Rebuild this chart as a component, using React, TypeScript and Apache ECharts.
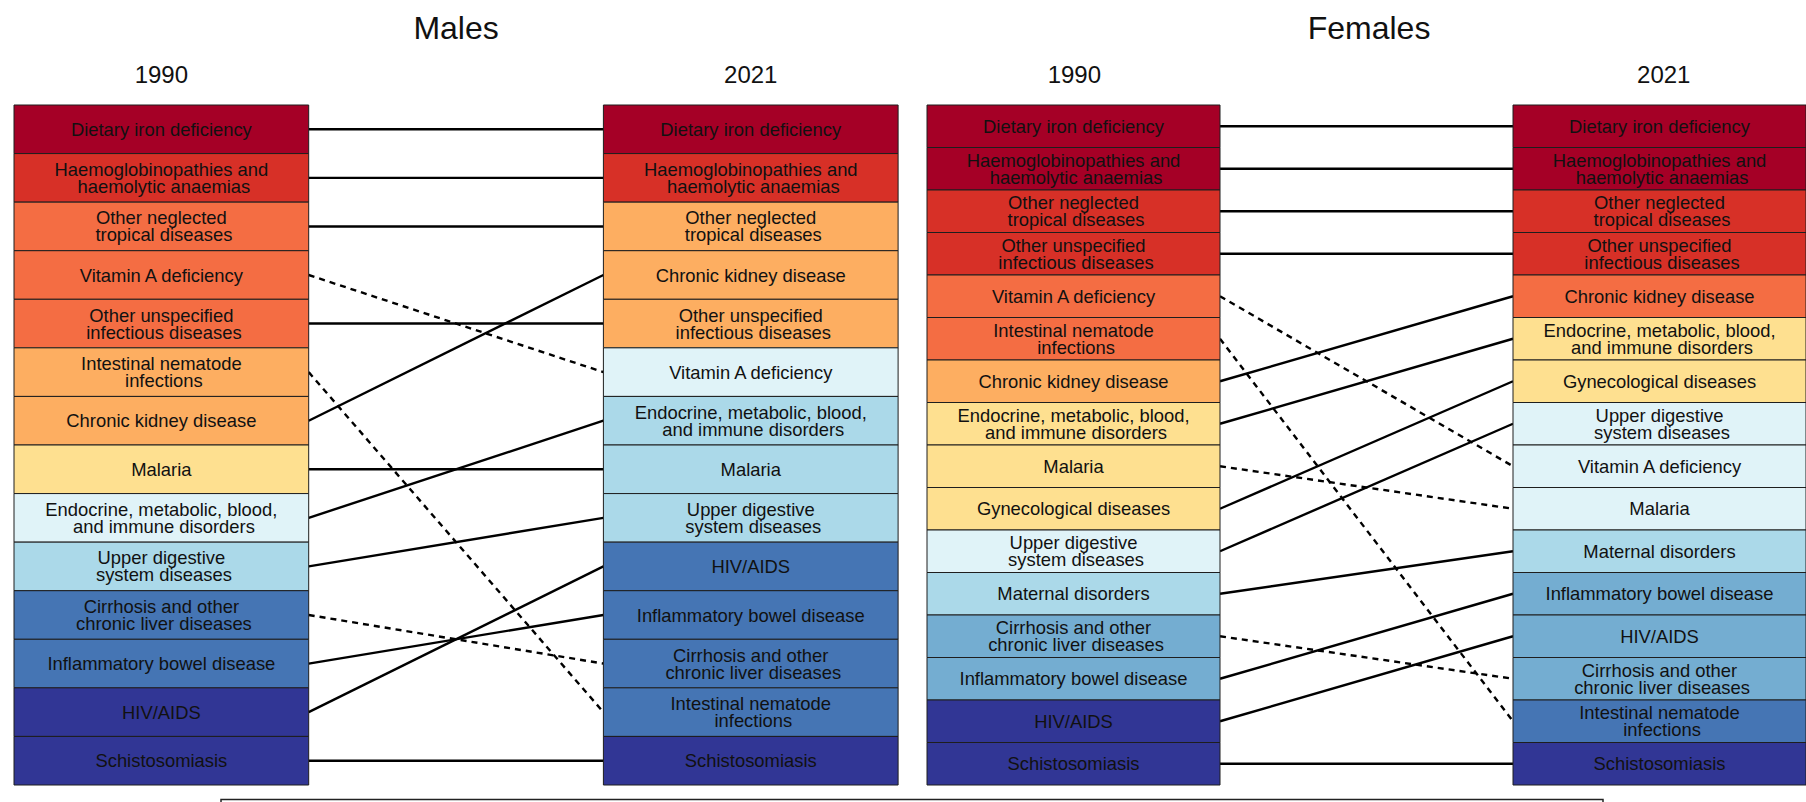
import React, { useEffect, useRef } from "react";
import * as echarts from "echarts";

// ---------- data ----------
const TITLES = ["Males", "Females"];
const YEARS = ["1990", "2021"];

// RdYlBu-style colour classes (0 = highest burden ... 9 = lowest)
const PALETTE = ["#A50026", "#D73027", "#F46D43", "#FDAE61", "#FEE090", "#E0F3F8", "#ABD9E9", "#74ADD1", "#4575B4", "#313695"];

const LABELS: Record<string, string> = {
  "Dietary iron deficiency": "Dietary iron deficiency",
  "Haemoglobinopathies and haemolytic anaemias": "Haemoglobinopathies and\n haemolytic anaemias",
  "Other neglected tropical diseases": "Other neglected\n tropical diseases",
  "Vitamin A deficiency": "Vitamin A deficiency",
  "Other unspecified infectious diseases": "Other unspecified\n infectious diseases",
  "Intestinal nematode infections": "Intestinal nematode\n infections",
  "Chronic kidney disease": "Chronic kidney disease",
  "Malaria": "Malaria",
  "Endocrine, metabolic, blood, and immune disorders": "Endocrine, metabolic, blood,\n and immune disorders",
  "Upper digestive system diseases": "Upper digestive\n system diseases",
  "Cirrhosis and other chronic liver diseases": "Cirrhosis and other\n chronic liver diseases",
  "Inflammatory bowel disease": "Inflammatory bowel disease",
  "HIV/AIDS": "HIV/AIDS",
  "Schistosomiasis": "Schistosomiasis",
  "Gynecological diseases": "Gynecological diseases",
  "Maternal disorders": "Maternal disorders",
};

const males1990 = [
  "Dietary iron deficiency",
  "Haemoglobinopathies and haemolytic anaemias",
  "Other neglected tropical diseases",
  "Vitamin A deficiency",
  "Other unspecified infectious diseases",
  "Intestinal nematode infections",
  "Chronic kidney disease",
  "Malaria",
  "Endocrine, metabolic, blood, and immune disorders",
  "Upper digestive system diseases",
  "Cirrhosis and other chronic liver diseases",
  "Inflammatory bowel disease",
  "HIV/AIDS",
  "Schistosomiasis",
];
const males1990Level = [0, 1, 2, 2, 2, 3, 3, 4, 5, 6, 8, 8, 9, 9];

const males2021 = [
  "Dietary iron deficiency",
  "Haemoglobinopathies and haemolytic anaemias",
  "Other neglected tropical diseases",
  "Chronic kidney disease",
  "Other unspecified infectious diseases",
  "Vitamin A deficiency",
  "Endocrine, metabolic, blood, and immune disorders",
  "Malaria",
  "Upper digestive system diseases",
  "HIV/AIDS",
  "Inflammatory bowel disease",
  "Cirrhosis and other chronic liver diseases",
  "Intestinal nematode infections",
  "Schistosomiasis",
];
const males2021Level = [0, 1, 3, 3, 3, 5, 6, 6, 6, 8, 8, 8, 8, 9];

const females1990 = [
  "Dietary iron deficiency",
  "Haemoglobinopathies and haemolytic anaemias",
  "Other neglected tropical diseases",
  "Other unspecified infectious diseases",
  "Vitamin A deficiency",
  "Intestinal nematode infections",
  "Chronic kidney disease",
  "Endocrine, metabolic, blood, and immune disorders",
  "Malaria",
  "Gynecological diseases",
  "Upper digestive system diseases",
  "Maternal disorders",
  "Cirrhosis and other chronic liver diseases",
  "Inflammatory bowel disease",
  "HIV/AIDS",
  "Schistosomiasis",
];
const females1990Level = [0, 0, 1, 1, 2, 2, 3, 4, 4, 4, 5, 6, 7, 7, 9, 9];

const females2021 = [
  "Dietary iron deficiency",
  "Haemoglobinopathies and haemolytic anaemias",
  "Other neglected tropical diseases",
  "Other unspecified infectious diseases",
  "Chronic kidney disease",
  "Endocrine, metabolic, blood, and immune disorders",
  "Gynecological diseases",
  "Upper digestive system diseases",
  "Vitamin A deficiency",
  "Malaria",
  "Maternal disorders",
  "Inflammatory bowel disease",
  "HIV/AIDS",
  "Cirrhosis and other chronic liver diseases",
  "Intestinal nematode infections",
  "Schistosomiasis",
];
const females2021Level = [0, 0, 1, 1, 2, 4, 4, 5, 5, 5, 6, 7, 7, 7, 8, 9];

// ---------- layout ----------
const FONT = "'Liberation Sans', Arial, Helvetica, sans-serif";
const PANEL_LEFT = [14, 927];
const TOP = 105;
const HEIGHT = 680;
const UNIT = 294.7; // one column width (box, gap, box)

export default function App() {
  const ref = useRef<HTMLDivElement>(null);

  useEffect(() => {
    if (!ref.current) return;
    const chart = echarts.init(ref.current, undefined, { renderer: "svg" });

    const panels = [
      { a: males1990, al: males1990Level, b: males2021, bl: males2021Level },
      { a: females1990, al: females1990Level, b: females2021, bl: females2021Level },
    ];

    const grid: any[] = [];
    const xAxis: any[] = [];
    const yAxis: any[] = [];
    const series: any[] = [];
    const graphic: any[] = [];

    panels.forEach((p, k) => {
      const n = p.a.length;
      grid.push({ left: PANEL_LEFT[k], top: TOP, width: UNIT * 3, height: HEIGHT, containLabel: false });
      xAxis.push({ type: "value", gridIndex: k, min: 0, max: 3, show: false });
      yAxis.push({ type: "value", gridIndex: k, min: 0, max: n, inverse: true, show: false });

      // connecting lines
      const links = p.a.map((name) => {
        const i1 = p.a.indexOf(name);
        const i2 = p.b.indexOf(name);
        return { i1, i2, dashed: i2 > i1 };
      });
      series.push({
        type: "custom",
        xAxisIndex: k,
        yAxisIndex: k,
        silent: true,
        clip: false,
        data: links.map((l) => [l.i1, l.i2]),
        renderItem: (params: any, api: any) => {
          const l = links[params.dataIndex];
          const s = api.coord([1, l.i1 + 0.5]);
          const e = api.coord([2, l.i2 + 0.5]);
          return {
            type: "line",
            shape: { x1: s[0], y1: s[1], x2: e[0], y2: e[1] },
            style: { stroke: "#000", lineWidth: 2.4, lineDash: l.dashed ? [6, 5] : null, fill: null },
          };
        },
      });

      // boxes
      const items: { x: number; row: number; level: number; name: string }[] = [];
      p.a.forEach((name, i) => items.push({ x: 0, row: i, level: p.al[i], name }));
      p.b.forEach((name, i) => items.push({ x: 2, row: i, level: p.bl[i], name }));
      series.push({
        type: "custom",
        xAxisIndex: k,
        yAxisIndex: k,
        silent: true,
        clip: false,
        data: items.map((it) => [it.x, it.row, it.level]),
        renderItem: (params: any, api: any) => {
          const it = items[params.dataIndex];
          const p0 = api.coord([it.x, it.row]);
          const p1 = api.coord([it.x + 1, it.row + 1]);
          return {
            type: "group",
            children: [
              {
                type: "rect",
                shape: { x: p0[0], y: p0[1], width: p1[0] - p0[0], height: p1[1] - p0[1] },
                style: { fill: PALETTE[it.level], stroke: "#1e1e1e", lineWidth: 1 },
              },
              {
                type: "text",
                x: (p0[0] + p1[0]) / 2,
                y: (p0[1] + p1[1]) / 2,
                style: {
                  text: LABELS[it.name],
                  align: "center",
                  verticalAlign: "middle",
                  fontSize: 18.4,
                  lineHeight: 17,
                  fontFamily: FONT,
                  fill: "#111",
                },
              },
            ],
          };
        },
      });

      // panel title and year headings
      graphic.push({
        type: "text",
        x: PANEL_LEFT[k] + UNIT * 1.5,
        y: 28,
        silent: true,
        style: { text: TITLES[k], align: "center", verticalAlign: "middle", fontSize: 32, fontFamily: FONT, fill: "#111" },
      });
      YEARS.forEach((yr, j) => {
        graphic.push({
          type: "text",
          x: PANEL_LEFT[k] + UNIT * (j * 2 + 0.5),
          y: 74,
          silent: true,
          style: { text: yr, align: "center", verticalAlign: "middle", fontSize: 24, fontFamily: FONT, fill: "#111" },
        });
      });
    });

    // legend frame (cut off at the bottom of the picture)
    graphic.push({
      type: "rect",
      silent: true,
      shape: { x: 221, y: 799.5, width: 1382, height: 30 },
      style: { fill: "none", stroke: "#222", lineWidth: 1.5 },
    });

    chart.setOption({
      animation: false,
      backgroundColor: "#fff",
      grid,
      xAxis,
      yAxis,
      series,
      graphic,
    });

    return () => chart.dispose();
  }, []);

  return (
    <div
      ref={ref}
      style={{ position: "absolute", left: 0, top: 0, width: 1806, height: 802, overflow: "hidden" }}
    />
  );
}
